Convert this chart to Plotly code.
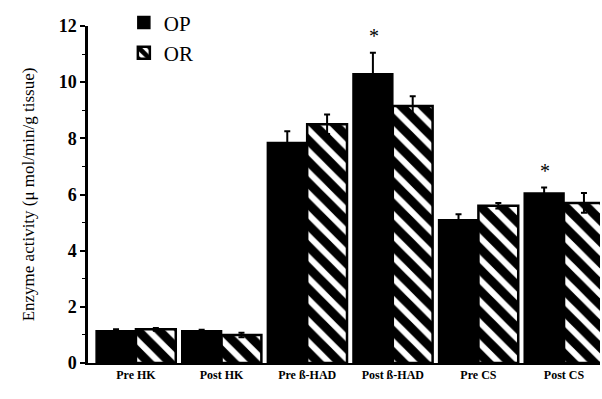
import plotly.graph_objects as go

categories = ["Pre HK", "Post HK", "Pre ß-HAD", "Post ß-HAD", "Pre CS", "Post CS"]
op_values = [1.15, 1.15, 7.85, 10.3, 5.1, 6.05]
op_errors = [0.05, 0.03, 0.4, 0.75, 0.2, 0.2]
or_values = [1.2, 1.0, 8.5, 9.15, 5.6, 5.7]
or_errors = [0.05, 0.08, 0.35, 0.35, 0.1, 0.35]
significant = [False, False, False, True, False, True]
y_ticks = [0, 2, 4, 6, 8, 10, 12]

serif = "Liberation Serif, Times New Roman, serif"

fig = go.Figure()
fig.add_trace(go.Bar(
    name="OP", x=categories, y=op_values,
    marker=dict(color="black", line=dict(color="black", width=1.5)),
    error_y=dict(type="data", array=op_errors, visible=True, color="black", thickness=2, width=3),
))
fig.add_trace(go.Bar(
    name="OR", x=categories, y=or_values,
    marker=dict(color="white", line=dict(color="black", width=2.5),
                pattern=dict(shape="\\", fgcolor="black", bgcolor="white", fgopacity=1,
                             size=15, solidity=0.6)),
    error_y=dict(type="data", array=or_errors, visible=True, color="black", thickness=2, width=3),
))

annotations = []
for i, (cat, sig) in enumerate(zip(categories, significant)):
    if sig:
        annotations.append(dict(
            x=i - 0.22, y=op_values[i] + op_errors[i] + 0.6, xref="x", yref="y",
            text="*", showarrow=False, font=dict(family=serif, size=20, color="black"),
        ))

fig.update_layout(
    width=602, height=399,
    margin=dict(l=88, r=2, t=24, b=36),
    paper_bgcolor="white", plot_bgcolor="white",
    barmode="group", bargap=0.07, bargroupgap=0.0,
    font=dict(family=serif, color="black"),
    showlegend=True,
    legend=dict(x=0.07, y=1.07, xanchor="left", yanchor="top",
                font=dict(family=serif, size=21, color="black"),
                bgcolor="rgba(0,0,0,0)", itemwidth=30, tracegroupgap=0),
    annotations=annotations,
    xaxis=dict(
        range=[-0.56, 5.42], showline=True, linecolor="black", linewidth=2,
        ticks="", tickfont=dict(family=serif, size=12, color="black", weight="bold"),
        showgrid=False, zeroline=False,
    ),
    yaxis=dict(
        range=[0, 12], tickvals=y_ticks, showline=True, linecolor="black", linewidth=2.5,
        ticks="outside", ticklen=5, tickwidth=2, tickcolor="black",
        minor=dict(ticks="outside", ticklen=3, tickwidth=1, dtick=1, tickcolor="black"),
        tickfont=dict(family=serif, size=18, color="black", weight="bold"),
        title=dict(text="Enzyme activity (μ mol/min/g tissue)",
                   font=dict(family=serif, size=17, color="black"), standoff=20),
        showgrid=False, zeroline=False,
    ),
)

fig.write_html("out.html")
